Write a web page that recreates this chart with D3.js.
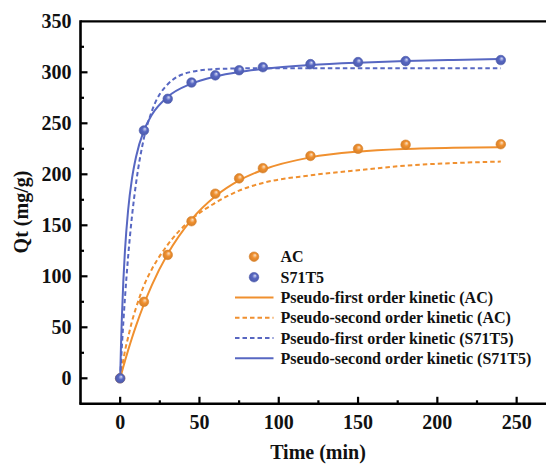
<!DOCTYPE html>
<html>
<head>
<meta charset="utf-8">
<script src="https://cdn.jsdelivr.net/npm/d3@7"></script>
<style>
  html, body { margin: 0; padding: 0; background: #fff; }
  svg { display: block; }
  text { font-family: "Liberation Serif", "Times New Roman", serif; font-weight: bold; fill: #111; }
</style>
</head>
<body>
<svg id="chart" width="546" height="464"></svg>
<script>
// Measured adsorption (mg/g) at each contact time (min)
const time = [0, 15, 30, 45, 60, 75, 90, 120, 150, 180, 240];
const qtAC = [0, 75, 121, 154, 181, 196, 206, 218, 225, 229, 229.5];
const qtS71T5 = [0, 243, 274, 290, 297, 302, 305, 308, 310, 311, 312];

// Fitted kinetic curves, sampled along the time axis
const fitTime = [0, 0.5, 1, 2, 3, 5, 7.5, 10, 15, 20, 30, 45, 60, 75, 90, 120, 150, 180, 210, 240];
const pfoAC = [0, 2.9, 5.8, 11.4, 16.8, 27.4, 39.8, 51.4, 72.6, 91.3, 122, 155.6, 178.4, 194, 204.5, 216.6, 222.2, 224.8, 226, 226.5];
const psoAC = [0, 4.8, 9.5, 18, 26.5, 40, 56, 69, 91, 107, 131, 156, 172, 184, 191.5, 199, 204, 208.5, 211, 212.5];
const pfoS71T5 = [0, 14.7, 28.7, 54.6, 78.1, 118.7, 159.4, 191, 235.5, 262, 288.3, 300.5, 303.2, 303.8, 304, 304, 304, 304, 304, 304];
const psoS71T5 = [0, 30.3, 56, 95.3, 124.3, 164.5, 196.2, 217, 243, 258.4, 275.9, 288.9, 295.9, 300.3, 303.3, 307.1, 309.4, 311, 312.1, 313];

// Axis ticks
const xTicks = [0, 50, 100, 150, 200, 250];
const xMinor = [25, 75, 125, 175, 225, 275];
const yTicks = [0, 50, 100, 150, 200, 250, 300, 350];
const yMinor = [25, 75, 125, 175, 225, 275, 325];

const legendLabels = ["AC", "S71T5",
  "Pseudo-first order kinetic (AC)", "Pseudo-second order kinetic (AC)",
  "Pseudo-first order kinetic (S71T5)", "Pseudo-second order kinetic (S71T5)"];

const ORANGE = "#F0902F";
const BLUE = "#5767C2";

const svg = d3.select("#chart");
const x = d3.scaleLinear().domain([-25, 275]).range([80.5, 556.3]);
const y = d3.scaleLinear().domain([-25, 350]).range([403.8, 21.3]);

// sphere-like marker fills
const defs = svg.append("defs");
function sphere(id, base, light) {
  const g = defs.append("radialGradient").attr("id", id)
    .attr("cx", "50%").attr("cy", "50%").attr("r", "55%")
    .attr("fx", "62%").attr("fy", "32%");
  g.append("stop").attr("offset", "0%").attr("stop-color", light);
  g.append("stop").attr("offset", "45%").attr("stop-color", base);
  g.append("stop").attr("offset", "100%").attr("stop-color", d3.color(base).darker(0.4));
}
sphere("gOrange", ORANGE, "#FBE3C8");
sphere("gBlue", BLUE, "#D8DCF4");

// fitted curves
const line = d3.line().x(d => x(d[0])).y(d => y(d[1])).curve(d3.curveMonotoneX);
const curves = [
  { v: pfoAC, c: ORANGE, dash: null },
  { v: psoAC, c: ORANGE, dash: "4.5,3" },
  { v: pfoS71T5, c: BLUE, dash: "4.5,3" },
  { v: psoS71T5, c: BLUE, dash: null }
];
curves.forEach(cv => {
  svg.append("path")
    .datum(fitTime.map((t, i) => [t, cv.v[i]]))
    .attr("d", line)
    .attr("fill", "none")
    .attr("stroke", cv.c)
    .attr("stroke-width", 2)
    .attr("stroke-dasharray", cv.dash);
});

// measured points
[[qtAC, "url(#gOrange)", ORANGE], [qtS71T5, "url(#gBlue)", BLUE]].forEach(([vals, fill, stroke]) => {
  svg.append("g").selectAll("circle")
    .data(time.map((t, i) => [t, vals[i]]))
    .join("circle")
    .attr("cx", d => x(d[0]))
    .attr("cy", d => y(d[1]))
    .attr("r", 4.8)
    .attr("fill", fill)
    .attr("stroke", d3.color(stroke).darker(0.3))
    .attr("stroke-width", 0.6);
});

// axes
const axisG = svg.append("g");
const bottomY = y(-25), leftX = x(-25);
axisG.append("line").attr("x1", leftX - 1.2).attr("x2", 546).attr("y1", bottomY).attr("y2", bottomY)
  .attr("stroke", "#000").attr("stroke-width", 2.6);
axisG.append("line").attr("x1", leftX).attr("x2", leftX).attr("y1", y(350) - 1).attr("y2", bottomY)
  .attr("stroke", "#000").attr("stroke-width", 2.6);
axisG.append("line").attr("x1", leftX).attr("x2", 546).attr("y1", y(350)).attr("y2", y(350))
  .attr("stroke", "#000").attr("stroke-width", 2.2);

axisG.selectAll(".xt").data(xTicks).join("line")
  .attr("x1", d => x(d)).attr("x2", d => x(d)).attr("y1", bottomY).attr("y2", bottomY - 7)
  .attr("stroke", "#000").attr("stroke-width", 2.2);
axisG.selectAll(".xm").data(xMinor).join("line")
  .attr("x1", d => x(d)).attr("x2", d => x(d)).attr("y1", bottomY).attr("y2", bottomY - 3.5)
  .attr("stroke", "#000").attr("stroke-width", 2.2);
axisG.selectAll(".yt").data(yTicks.filter(d => d < 350)).join("line")
  .attr("x1", leftX).attr("x2", leftX + 7).attr("y1", d => y(d)).attr("y2", d => y(d))
  .attr("stroke", "#000").attr("stroke-width", 2.2);
axisG.selectAll(".ym").data(yMinor).join("line")
  .attr("x1", leftX).attr("x2", leftX + 3.5).attr("y1", d => y(d)).attr("y2", d => y(d))
  .attr("stroke", "#000").attr("stroke-width", 2.2);

axisG.selectAll(".xl").data(xTicks).join("text")
  .attr("x", d => x(d)).attr("y", 429)
  .attr("text-anchor", "middle").attr("font-size", 20)
  .text(d => d);
axisG.selectAll(".yl").data(yTicks).join("text")
  .attr("x", 71.5).attr("y", d => y(d) + 7)
  .attr("text-anchor", "end").attr("font-size", 20)
  .text(d => d);

svg.append("text").attr("x", 318).attr("y", 459)
  .attr("text-anchor", "middle").attr("font-size", 20).text("Time (min)");
svg.append("text").attr("transform", "translate(28,212) rotate(-90)")
  .attr("text-anchor", "middle").attr("font-size", 20).text("Qt (mg/g)");

// legend
const leg = svg.append("g");
const rowY = [256.7, 277.2, 297.5, 317.8, 338, 358.3];
leg.append("circle").attr("cx", 254).attr("cy", rowY[0]).attr("r", 4.8)
  .attr("fill", "url(#gOrange)").attr("stroke", d3.color(ORANGE).darker(0.3)).attr("stroke-width", 0.6);
leg.append("circle").attr("cx", 254).attr("cy", rowY[1]).attr("r", 4.8)
  .attr("fill", "url(#gBlue)").attr("stroke", d3.color(BLUE).darker(0.3)).attr("stroke-width", 0.6);
curves.forEach((cv, i) => {
  leg.append("line").attr("x1", 235).attr("x2", 273.5)
    .attr("y1", rowY[i + 2]).attr("y2", rowY[i + 2])
    .attr("stroke", cv.c).attr("stroke-width", 2).attr("stroke-dasharray", cv.dash);
});
leg.selectAll("text").data(legendLabels).join("text")
  .attr("x", 280.5).attr("y", (d, i) => rowY[i] + 5.5)
  .attr("font-size", 16)
  .text(d => d);
</script>
</body>
</html>
